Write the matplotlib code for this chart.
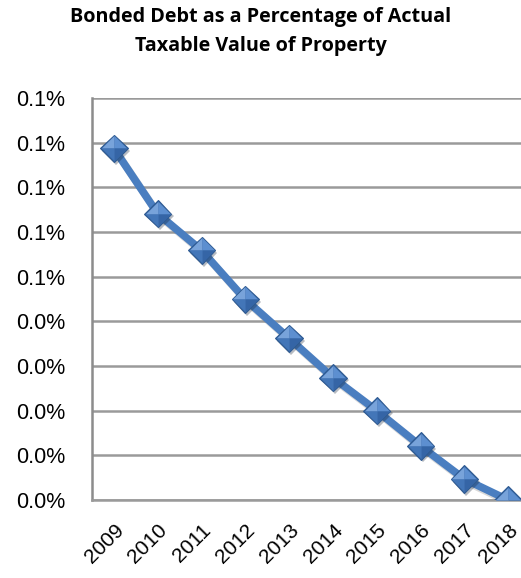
import matplotlib.pyplot as plt
import matplotlib.patheffects as pe
from matplotlib.path import Path

years = ["2009", "2010", "2011", "2012", "2013", "2014", "2015", "2016", "2017", "2018"]
# bonded debt / actual taxable value, in percent
debt_pct = [0.0787, 0.0641, 0.0559, 0.0449, 0.0362, 0.0274, 0.0200, 0.0121, 0.0047, 0.0000]

ytick_vals = [0.00, 0.01, 0.02, 0.03, 0.04, 0.05, 0.06, 0.07, 0.08, 0.09]
ytick_labels = ["0.0%", "0.0%", "0.0%", "0.0%", "0.0%", "0.1%", "0.1%", "0.1%", "0.1%", "0.1%"]

blue = "#4A7EC0"

fig = plt.figure(figsize=(5.21, 5.78), dpi=100)
ax = fig.add_axes([92 / 521, 78 / 578, 438 / 521, 402 / 578])

x = list(range(len(years)))
ax.plot(x, debt_pct, color=blue, lw=5.5, solid_capstyle="round", zorder=3,
        path_effects=[pe.SimpleLineShadow(offset=(1.5, -2), shadow_color="gray", alpha=0.3),
                      pe.Normal()])

# bevelled diamond markers: four facets around the centre
facets = [
    ([(0, 0), (-1, 0), (0, 1), (0, 0)], "#78A3DA"),
    ([(0, 0), (0, 1), (1, 0), (0, 0)], "#5D8FD0"),
    ([(0, 0), (1, 0), (0, -1), (0, 0)], "#3565A6"),
    ([(0, 0), (0, -1), (-1, 0), (0, 0)], "#4376B8"),
]
ax.plot(x, debt_pct, ls="none", marker="D", ms=14, color="#3A6AA8", mec="#2E5A92", mew=0.8,
        zorder=4, path_effects=[pe.SimplePatchShadow(offset=(1.5, -2), alpha=0.3), pe.Normal()])
for verts, col in facets:
    codes = [Path.MOVETO, Path.LINETO, Path.LINETO, Path.CLOSEPOLY]
    m = Path(verts, codes)
    ax.plot(x, debt_pct, ls="none", marker=m, ms=18, mfc=col, mec="none", zorder=5)

ax.set_xlim(-0.5, 9.5)
ax.set_ylim(0, 0.09)
ax.set_yticks(ytick_vals)
ax.set_yticklabels(ytick_labels)
ax.set_xticks(x)
ax.set_xticklabels(years, rotation=45, ha="right", rotation_mode="anchor")

ax.grid(axis="y", color="#9A9A9A", lw=1.8)
ax.set_axisbelow(True)
for s in ["top", "right"]:
    ax.spines[s].set_visible(False)
ax.spines["left"].set_color("#8C8C8C")
ax.spines["left"].set_linewidth(1.8)
ax.spines["bottom"].set_color("#9A9A9A")
ax.spines["bottom"].set_linewidth(1.8)
ax.tick_params(axis="y", length=0, pad=19, labelsize=15.5)
ax.tick_params(axis="x", length=0, pad=15, labelsize=15)
for lab in ax.get_xticklabels() + ax.get_yticklabels():
    lab.set_family("Liberation Sans")

fig.text(0.50, 0.988, "Bonded Debt as a Percentage of Actual\nTaxable Value of Property",
         ha="center", va="top", fontsize=14.2, fontweight="bold", family="Open Sans",
         linespacing=1.6)

fig.savefig("out.png", dpi=100)
